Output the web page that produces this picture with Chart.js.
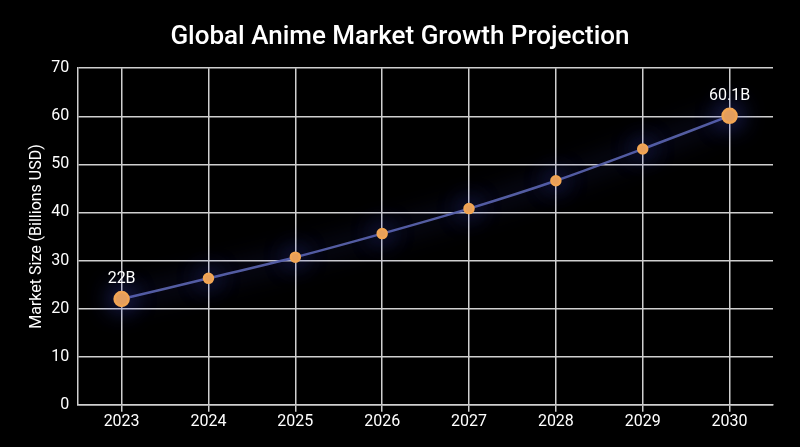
<!DOCTYPE html>
<html>
<head>
<meta charset="utf-8">
<script src="https://cdn.jsdelivr.net/npm/chart.js@4"></script>
<style>
    html, body { margin: 0; padding: 0; background: #000; }
    #wrap { width: 800px; height: 447px; }
</style>
</head>
<body>
<div id="wrap"><canvas id="marketChart"></canvas></div>
<script>
// 数据
const years = ['2023', '2024', '2025', '2026', '2027', '2028', '2029', '2030'];
const marketSize = [22, 26.3, 30.7, 35.6, 40.8, 46.6, 53.2, 60.1];
const pointLabels = ['22B', '', '', '', '', '', '', '60.1B'];

// 线条发光
const glowPlugin = {
    id: 'glow',
    beforeDatasetDraw(chart) {
        const ctx = chart.ctx;
        ctx.save();
        ctx.shadowColor = 'rgba(75, 85, 220, 0.9)';
        ctx.shadowBlur = 26;
    },
    afterDatasetDraw(chart) {
        chart.ctx.restore();
    }
};

// 首尾数值标签
const endLabelPlugin = {
    id: 'endLabels',
    afterDatasetsDraw(chart) {
        const ctx = chart.ctx;
        const meta = chart.getDatasetMeta(0);
        ctx.save();
        ctx.fillStyle = '#ffffff';
        ctx.font = '16px Roboto';
        ctx.textAlign = 'center';
        ctx.textBaseline = 'bottom';
        meta.data.forEach((pt, i) => {
            if (pointLabels[i]) {
                ctx.fillText(pointLabels[i], pt.x, pt.y - 12);
            }
        });
        ctx.restore();
    }
};

const ctx = document.getElementById('marketChart').getContext('2d');
new Chart(ctx, {
    type: 'line',
    data: {
        labels: years,
        datasets: [{
            data: marketSize,
            borderColor: 'rgba(88, 98, 170, 0.95)',
            borderWidth: 2.5,
            tension: 0.3,
            pointBackgroundColor: '#f2a553',
            pointBorderColor: '#f2a553',
            pointRadius: (c) => (c.dataIndex === 0 || c.dataIndex === marketSize.length - 1) ? 7 : 4.5,
            pointHoverRadius: 8
        }]
    },
    options: {
        responsive: true,
        maintainAspectRatio: false,
        animation: false,
        layout: { padding: { left: 27, right: 27, top: 0, bottom: 14 } },
        plugins: {
            legend: { display: false },
            tooltip: { enabled: false },
            title: {
                display: true,
                text: 'Global Anime Market Growth Projection',
                color: '#ffffff',
                font: { family: 'Roboto', size: 26, weight: '500' },
                padding: { top: 22, bottom: 15 }
            }
        },
        scales: {
            x: {
                offset: true,
                grid: { color: '#cfcfcf', lineWidth: 1.5, tickLength: 7 },
                border: { color: '#cfcfcf', width: 1.5 },
                ticks: { color: '#ffffff', font: { family: 'Roboto', size: 16 }, padding: 1 }
            },
            y: {
                min: 0,
                max: 70,
                grid: { color: '#cfcfcf', lineWidth: 1.5, drawTicks: false },
                border: { color: '#cfcfcf', width: 1.5 },
                ticks: { stepSize: 10, color: '#ffffff', font: { family: 'Roboto', size: 16 }, padding: 9 },
                title: {
                    display: true,
                    text: 'Market Size (Billions USD)',
                    color: '#ffffff',
                    font: { family: 'Roboto', size: 16 },
                    padding: { top: 0, bottom: -4 }
                }
            }
        }
    },
    plugins: [glowPlugin, endLabelPlugin]
});
</script>
</body>
</html>
